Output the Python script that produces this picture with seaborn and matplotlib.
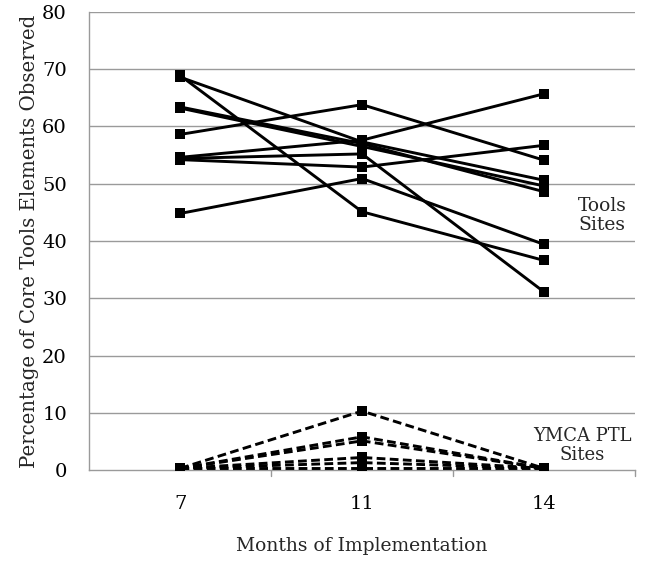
import matplotlib
matplotlib.use("Agg")
import matplotlib.pyplot as plt
import seaborn as sns
import pandas as pd

months = ["7", "11", "14"]

# Tools sites (solid lines)
tools_sites = ["A", "B", "C", "D", "E", "F", "G", "H", "I"]
tools_m7 = [68.9, 68.6, 63.4, 63.2, 58.6, 54.6, 54.4, 54.2, 44.8]
tools_m11 = [45.1, 57.3, 57.0, 56.5, 63.8, 57.6, 55.2, 52.9, 50.9]
tools_m14 = [36.6, 50.6, 48.6, 49.6, 54.1, 65.7, 31.1, 56.7, 39.4]

# YMCA PTL sites (dashed lines)
ymca_sites = ["Y1", "Y2", "Y3", "Y4", "Y5", "Y6"]
ymca_m7 = [0.3, 0.3, 0.3, 0.3, 0.3, 0.3]
ymca_m11 = [10.3, 5.8, 5.1, 2.2, 1.3, 0.3]
ymca_m14 = [0.3, 0.3, 0.3, 0.3, 0.3, 0.3]

rows = []
for grp, sites, cols in [("Tools", tools_sites, (tools_m7, tools_m11, tools_m14)),
                         ("YMCA", ymca_sites, (ymca_m7, ymca_m11, ymca_m14))]:
    for i, s in enumerate(sites):
        for j, m in enumerate(months):
            rows.append({"site": s, "group": grp, "pos": j, "month": m, "value": cols[j][i]})
df = pd.DataFrame(rows)

sns.set_style("white")
plt.rcParams["font.family"] = ["DejaVu Serif", "Liberation Serif"]

fig = plt.figure(figsize=(6.46, 5.65), dpi=100)
ax = fig.add_axes([0.138, 0.168, 0.845, 0.811])

for y in range(10, 90, 10):
    ax.axhline(y, color="#9a9a9a", lw=1.0, zorder=0)

sns.lineplot(data=df, x="pos", y="value", units="site", estimator=None,
             style="group", dashes={"Tools": "", "YMCA": (3.0, 1.5)},
             markers={"Tools": "s", "YMCA": "s"}, color="black",
             linewidth=2.1, markersize=7, markeredgewidth=0,
             legend=False, ax=ax, zorder=3)

ax.set_xlim(-0.5, 2.5)
ax.set_ylim(0, 80)
ax.set_yticks(range(0, 90, 10))
ax.set_xticks([0, 1, 2])
ax.set_xticklabels(months)
ax.tick_params(axis="x", labelsize=14, colors="black", length=0, pad=18)
ax.tick_params(axis="y", labelsize=14, labelcolor="black", pad=12, length=4,
               width=1, color="#9a9a9a", direction="out")
for xb in [0.5, 1.5, 2.5]:
    ax.plot([xb, xb], [0, -1.0], color="#9a9a9a", lw=1, clip_on=False)

for side in ["top", "right"]:
    ax.spines[side].set_visible(False)
for side in ["left", "bottom"]:
    ax.spines[side].set_color("#9a9a9a")
    ax.spines[side].set_linewidth(1.0)

ax.set_xlabel("Months of Implementation", fontsize=13.5, labelpad=17)
ax.set_ylabel("Percentage of Core Tools Elements Observed", fontsize=14.2, labelpad=2)

ax.text(2.32, 44.5, "Tools\nSites", fontsize=13.5, ha="center", va="center",
        linespacing=1.05, bbox=dict(facecolor="white", edgecolor="none", pad=0.5))
ax.text(2.21, 4.3, "YMCA PTL\nSites", fontsize=13, ha="center", va="center",
        linespacing=1.05)

fig.savefig("out.png", dpi=100)
